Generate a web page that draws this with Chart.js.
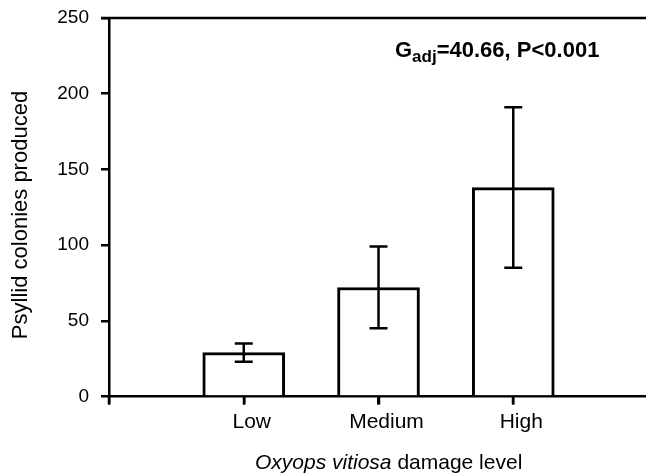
<!DOCTYPE html>
<html>
<head>
<meta charset="utf-8">
<script src="https://cdn.jsdelivr.net/npm/chart.js@4.4.1/dist/chart.umd.min.js"></script>
<style>
  html, body { margin: 0; padding: 0; background: #fff; overflow: hidden; }
  #wrap { width: 646px; height: 475px; }
</style>
</head>
<body>
<div id="wrap"><canvas id="chart" width="646" height="475"></canvas></div>
<script>
// damage levels, placed at x = 1, 2, 3 (x = 0 is the empty start of the axis)
const levels = ['Low', 'Medium', 'High'];
const levelPos = [1, 2, 3];
const colonies = [29, 72, 138];
const colonyErr = [6, 27, 53];
const yTicks = [0, 50, 100, 150, 200, 250];
const xTicks = [0, 1, 2, 3];

const FONT = '"Liberation Sans", Arial, sans-serif';

const errorBars = {
    id: 'errorBars',
    afterDatasetsDraw(chart) {
        const ctx = chart.ctx;
        const xs = chart.scales.x, ys = chart.scales.y;
        ctx.save();
        ctx.strokeStyle = '#000';
        ctx.lineWidth = 2.5;
        colonies.forEach((v, i) => {
            const x = xs.getPixelForValue(levelPos[i]);
            const top = ys.getPixelForValue(v + colonyErr[i]);
            const bot = ys.getPixelForValue(v - colonyErr[i]);
            ctx.beginPath();
            ctx.moveTo(x, top); ctx.lineTo(x, bot);
            ctx.moveTo(x - 9, top); ctx.lineTo(x + 9, top);
            ctx.moveTo(x - 9, bot); ctx.lineTo(x + 9, bot);
            ctx.stroke();
        });
        ctx.restore();
    }
};

const extras = {
    id: 'extras',
    afterDraw(chart) {
        const ctx = chart.ctx;
        const a = chart.chartArea;
        const xs = chart.scales.x;
        ctx.save();
        ctx.fillStyle = '#000';
        ctx.strokeStyle = '#000';

        // top edge of the plot area
        ctx.lineWidth = 2.5;
        ctx.beginPath();
        ctx.moveTo(a.left - 8, a.top);
        ctx.lineTo(a.right, a.top);
        ctx.stroke();

        // tick marks under the x axis
        ctx.beginPath();
        xTicks.forEach(v => {
            const px = Math.round(xs.getPixelForValue(v));
            ctx.moveTo(px, a.bottom);
            ctx.lineTo(px, a.bottom + 8);
        });
        ctx.stroke();

        // y title
        ctx.save();
        ctx.translate(21, 215);
        ctx.rotate(-Math.PI / 2);
        ctx.font = '22px ' + FONT;
        ctx.textAlign = 'center';
        ctx.textBaseline = 'middle';
        ctx.fillText('Psyllid colonies produced', 0, 0);
        ctx.restore();

        // x title, species name in italics
        const it = 'Oxyops vitiosa', rest = ' damage level';
        ctx.font = 'italic 21px ' + FONT;
        const w1 = ctx.measureText(it).width;
        const x0 = 255;
        ctx.textBaseline = 'alphabetic';
        ctx.textAlign = 'left';
        ctx.fillText(it, x0, 469);
        ctx.font = '21px ' + FONT;
        ctx.fillText(rest, x0 + w1, 469);

        // test statistic
        let x = 395;
        ctx.font = 'bold 22px ' + FONT;
        ctx.fillText('G', x, 57);
        x += ctx.measureText('G').width;
        ctx.font = 'bold 17px ' + FONT;
        ctx.fillText('adj', x, 62);
        x += ctx.measureText('adj').width;
        ctx.font = 'bold 22px ' + FONT;
        ctx.fillText('=40.66, P<0.001', x, 57);
        ctx.restore();
    }
};

new Chart(document.getElementById('chart'), {
    type: 'bar',
    data: {
        datasets: [{
            data: levelPos.map((p, i) => ({ x: p, y: colonies[i] })),
            backgroundColor: '#fff',
            borderColor: '#000',
            borderWidth: 3,
            borderSkipped: 'start',
            barThickness: 82
        }]
    },
    options: {
        responsive: false,
        animation: false,
        events: [],
        layout: { padding: { top: 18, left: 0, right: 0, bottom: 0 } },
        plugins: { legend: { display: false }, tooltip: { enabled: false } },
        scales: {
            x: {
                type: 'linear',
                offset: false,
                min: 0,
                max: 3.985,
                afterBuildTicks: s => { s.ticks = xTicks.map(v => ({ value: v })); },
                afterFit: s => { s.height = 78.5; s.paddingLeft = 0; s.paddingRight = 0; },
                ticks: {
                    color: '#000',
                    font: { family: FONT, size: 21 },
                    padding: 5,
                    labelOffset: 8,
                    maxRotation: 0,
                    autoSkip: false,
                    callback: v => (v >= 1 && v <= 3 ? levels[v - 1] : '')
                },
                grid: { offset: false, drawOnChartArea: false, drawTicks: true, tickLength: 8, color: '#000', lineWidth: 2.5 },
                border: { color: '#000', width: 2.5 }
            },
            y: {
                min: 0,
                max: 250,
                afterBuildTicks: s => { s.ticks = yTicks.map(v => ({ value: v })); },
                afterFit: s => { s.width = 109; s.paddingTop = 0; s.paddingBottom = 0; },
                ticks: {
                    color: '#000',
                    font: { family: FONT, size: 19 },
                    padding: 12
                },
                grid: { drawOnChartArea: false, drawTicks: true, tickLength: 8, color: '#000', lineWidth: 2.5 },
                border: { color: '#000', width: 2.5 }
            }
        }
    },
    plugins: [errorBars, extras]
});
</script>
</body>
</html>
